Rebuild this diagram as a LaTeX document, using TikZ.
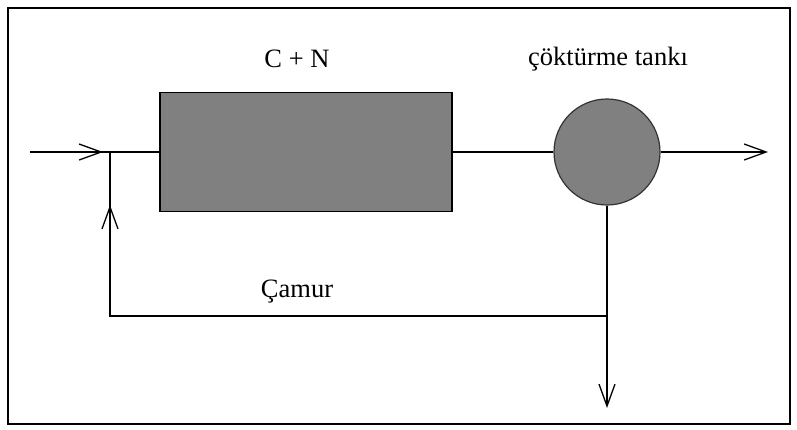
\documentclass[tikz,border=0pt]{standalone}
\usepackage{fontspec}
\setmainfont{Liberation Serif}
\usetikzlibrary{arrows.meta}
\begin{document}
\begin{tikzpicture}[x=1pt,y=-1pt,
  flow/.style={line width=1.3pt,black},
  barb/.style={line width=1.3pt,-{Straight Barb[length=22pt,width=16pt,line width=1.3pt]}},
  lbl/.style={font=\fontsize{26.5}{28}\selectfont,inner sep=0pt,anchor=base}]
\useasboundingbox (0,0) rectangle (797,429);
\draw[line width=2pt] (8,8) rectangle (790,424);
% nodes
\node[draw=black,fill=gray,line width=1.3pt,minimum width=292pt,minimum height=119pt,inner sep=0pt] (reactor) at (306,152) {};
\node[draw=black!80,fill=gray,line width=1.2pt,circle,minimum size=106pt,inner sep=0pt] (tank) at (607,152) {};
\node[lbl] (cn) at (297,67) {C + N};
\node[lbl] (tanklbl) at (608,65) {çöktürme tankı};
\node[lbl] (camur) at (297,297) {Çamur};
% coordinates
\coordinate (in) at (30,152);
\coordinate (intip) at (103,152);
\coordinate (junc) at (110,152);
\coordinate (fbcorner) at (110,316);
\coordinate (fbtip) at (110,205);
\coordinate (split) at (tank.south |- fbcorner);
\coordinate (out) at (768,152);
\coordinate (down) at (tank.south |- 0,408);
% connectors
\draw[flow] (in) -- (reactor.west);
\draw[barb] (in) -- (intip);
\draw[flow] (reactor.east) -- (tank.west);
\draw[barb] (tank.east) -- (out);
\draw[barb] (tank.south) -- (down);
\draw[flow] (split) -- (fbcorner) -- (junc);
\draw[barb] (fbcorner) -- (fbtip);
\end{tikzpicture}
\end{document}
